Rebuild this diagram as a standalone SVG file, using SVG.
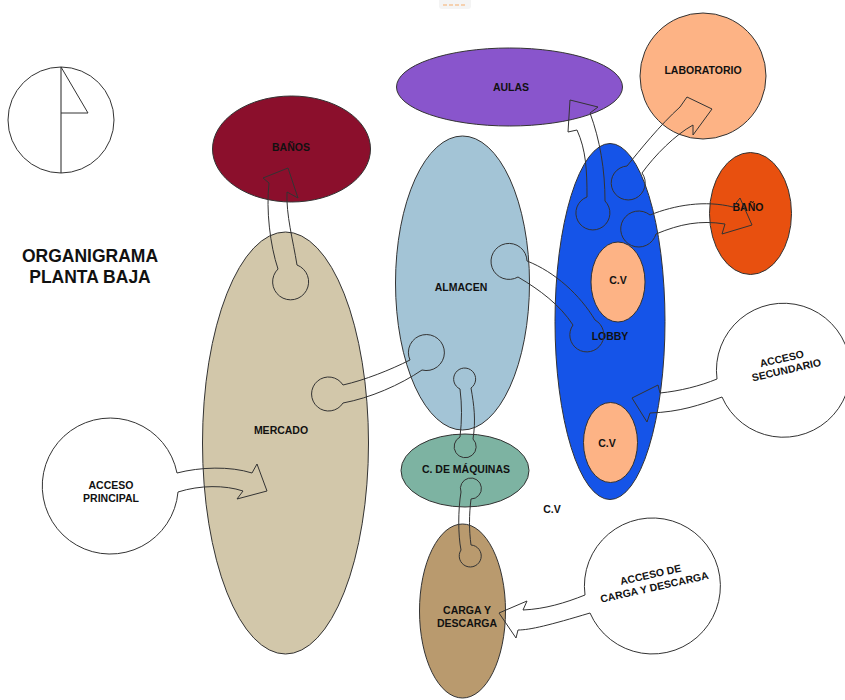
<svg xmlns="http://www.w3.org/2000/svg" width="845" height="700" viewBox="0 0 845 700">
<style>
.n{stroke:#333;stroke-width:1}
.t{font-family:"Liberation Sans",Arial,sans-serif;font-weight:bold;font-size:10.5px;fill:#111;text-anchor:middle}
.c{fill:none;stroke:#333;stroke-width:1;stroke-linejoin:miter}
.w{fill:#fff;stroke:#333;stroke-width:1}
</style>
<rect width="845" height="700" fill="#fff"/>
<g id="badge"><rect x="439" y="-5" width="32" height="14" rx="3" fill="#f4f4f4"/><line x1="443" y1="5" x2="467" y2="5" stroke="#f6ad6b" stroke-width="1" stroke-dasharray="4 2"/></g>
<g id="compass"><circle cx="61" cy="120" r="53" class="w"/><line x1="61" y1="67" x2="61" y2="173" stroke="#222" stroke-width="1"/><path d="M61,67 L88,113 L61,113" fill="none" stroke="#333"/></g>
<g id="title"><text x="90" y="262" class="t" style="font-size:17.5px">ORGANIGRAMA</text><text x="90" y="283" class="t" style="font-size:17.5px">PLANTA BAJA</text></g>
<g id="mercado"><ellipse cx="285.5" cy="443" rx="83" ry="211" class="n" fill="#d2c7aa"/><text x="281" y="434" class="t">MERCADO</text></g>
<g id="banos"><ellipse cx="291.5" cy="149" rx="79" ry="53" class="n" fill="#8b0f2c"/><text x="291" y="151" class="t">BAÑOS</text></g>
<g id="almacen"><ellipse cx="462.5" cy="283" rx="67" ry="147" class="n" fill="#a3c4d6"/><text x="461" y="291" class="t">ALMACEN</text></g>
<g id="aulas"><ellipse cx="509.5" cy="87" rx="113" ry="39" class="n" fill="#8955cc"/><text x="511" y="91" class="t">AULAS</text></g>
<g id="laboratorio"><circle cx="703" cy="76" r="63" class="n" fill="#fdb385"/><text x="703" y="74" class="t">LABORATORIO</text></g>
<g id="bano"><ellipse cx="750.5" cy="213.5" rx="41" ry="61" class="n" fill="#e8500f"/><text x="748" y="211" class="t">BAÑO</text></g>
<g id="lobby"><ellipse cx="610" cy="321.5" rx="55" ry="178" class="n" fill="#1554e8"/><text x="610" y="340" class="t">LOBBY</text></g>
<g id="cv1"><ellipse cx="618" cy="282" rx="27" ry="40" class="n" fill="#fdb385"/><text x="618" y="284" class="t">C.V</text></g>
<g id="cv2"><ellipse cx="610.5" cy="442.5" rx="27" ry="40" class="n" fill="#fdb385"/><text x="607" y="447" class="t">C.V</text></g>
<g id="cv3"><text x="552" y="513" class="t">C.V</text></g>
<g id="maquinas"><ellipse cx="465" cy="470.5" rx="64" ry="36.5" class="n" fill="#7db3a2"/><text x="466" y="473" class="t">C. DE MÁQUINAS</text></g>
<g id="carga"><ellipse cx="462.5" cy="611" rx="43" ry="87" class="n" fill="#b99a6e"/><text x="467" y="614" class="t">CARGA Y</text><text x="467" y="627" class="t">DESCARGA</text></g>
<g id="acceso-principal"><path d="M178,492 A68,68 0 1 1 177,473" class="w"/><text x="111" y="489" class="t">ACCESO</text><text x="111" y="502" class="t">PRINCIPAL</text></g>
<g id="acceso-secundario"><path d="M722,397 A67,67 0 1 0 717,379" class="w"/><g transform="rotate(-13 784 364)"><text x="783" y="362" class="t">ACCESO</text><text x="785" y="374" class="t">SECUNDARIO</text></g></g>
<g id="acceso-carga"><path d="M590,613 A68,68 0 1 0 585,595" class="w"/><g transform="rotate(-12.6 653 581)"><text x="652" y="578" class="t">ACCESO DE</text><text x="653" y="591" class="t">CARGA Y DESCARGA</text></g></g>
<g id="connectors">
<path class="c" d="M297,265 C293,240 286,215 287,192 L298,198 L288,168 L263,178 L269,183 C266,210 270,245 278,269 A18,18 0 1 0 297,265 Z"/>
<path class="c" d="M343,385 C365,380 390,370 410,360 A18,18 0 1 1 422,370 C400,385 370,398 343,403 A17,17 0 1 1 343,385 Z"/>
<path class="c" d="M527,261 C555,272 580,295 595,320 A17,17 0 1 1 573,325 C560,305 540,290 518,277 A18,18 0 1 1 527,261 Z"/>
<path class="c" d="M471,388 C474,405 476,420 473,439 A11,11 0 1 1 460,437 C462,420 462,405 460,389 A11,11 0 1 1 471,388 Z"/>
<path class="c" d="M471,499 C469,515 469,530 471,545 A11,11 0 1 1 461,550 C458,535 458,510 461,492 A10.5,10.5 0 1 1 471,499 Z"/>
<path class="c" d="M587,197 C587,170 586,150 577,130 L568,132 L570,100 L598,107 L590,113 C600,140 605,170 605,201 A17,17 0 1 1 587,197 Z"/>
<path class="c" d="M627,166 C640,150 660,125 680,107 L687,97 L712,109 L693,135 L693,125 C675,135 655,155 642,173 A17,17 0 1 1 627,166 Z"/>
<path class="c" d="M650,215 C675,205 705,200 733,207 L740,198 L752,225 L722,234 L725,224 C700,220 680,224 656,234 A18,18 0 1 1 650,215 Z"/>
<path class="c" d="M177,473 C200,467 230,466 252,473 L257,464 L267,491 L237,499 L243,491 C225,485 200,485 178,492"/>
<path class="c" d="M717,379 C700,386 680,391 660,393 L658,385 L632,398 L647,422 L650,413 C680,412 700,405 722,397"/>
<path class="c" d="M585,595 C565,603 545,609 523,610 L527,601 L499,613 L516,638 L518,630 C530,630 550,625 590,613"/>
</g>
</svg>
